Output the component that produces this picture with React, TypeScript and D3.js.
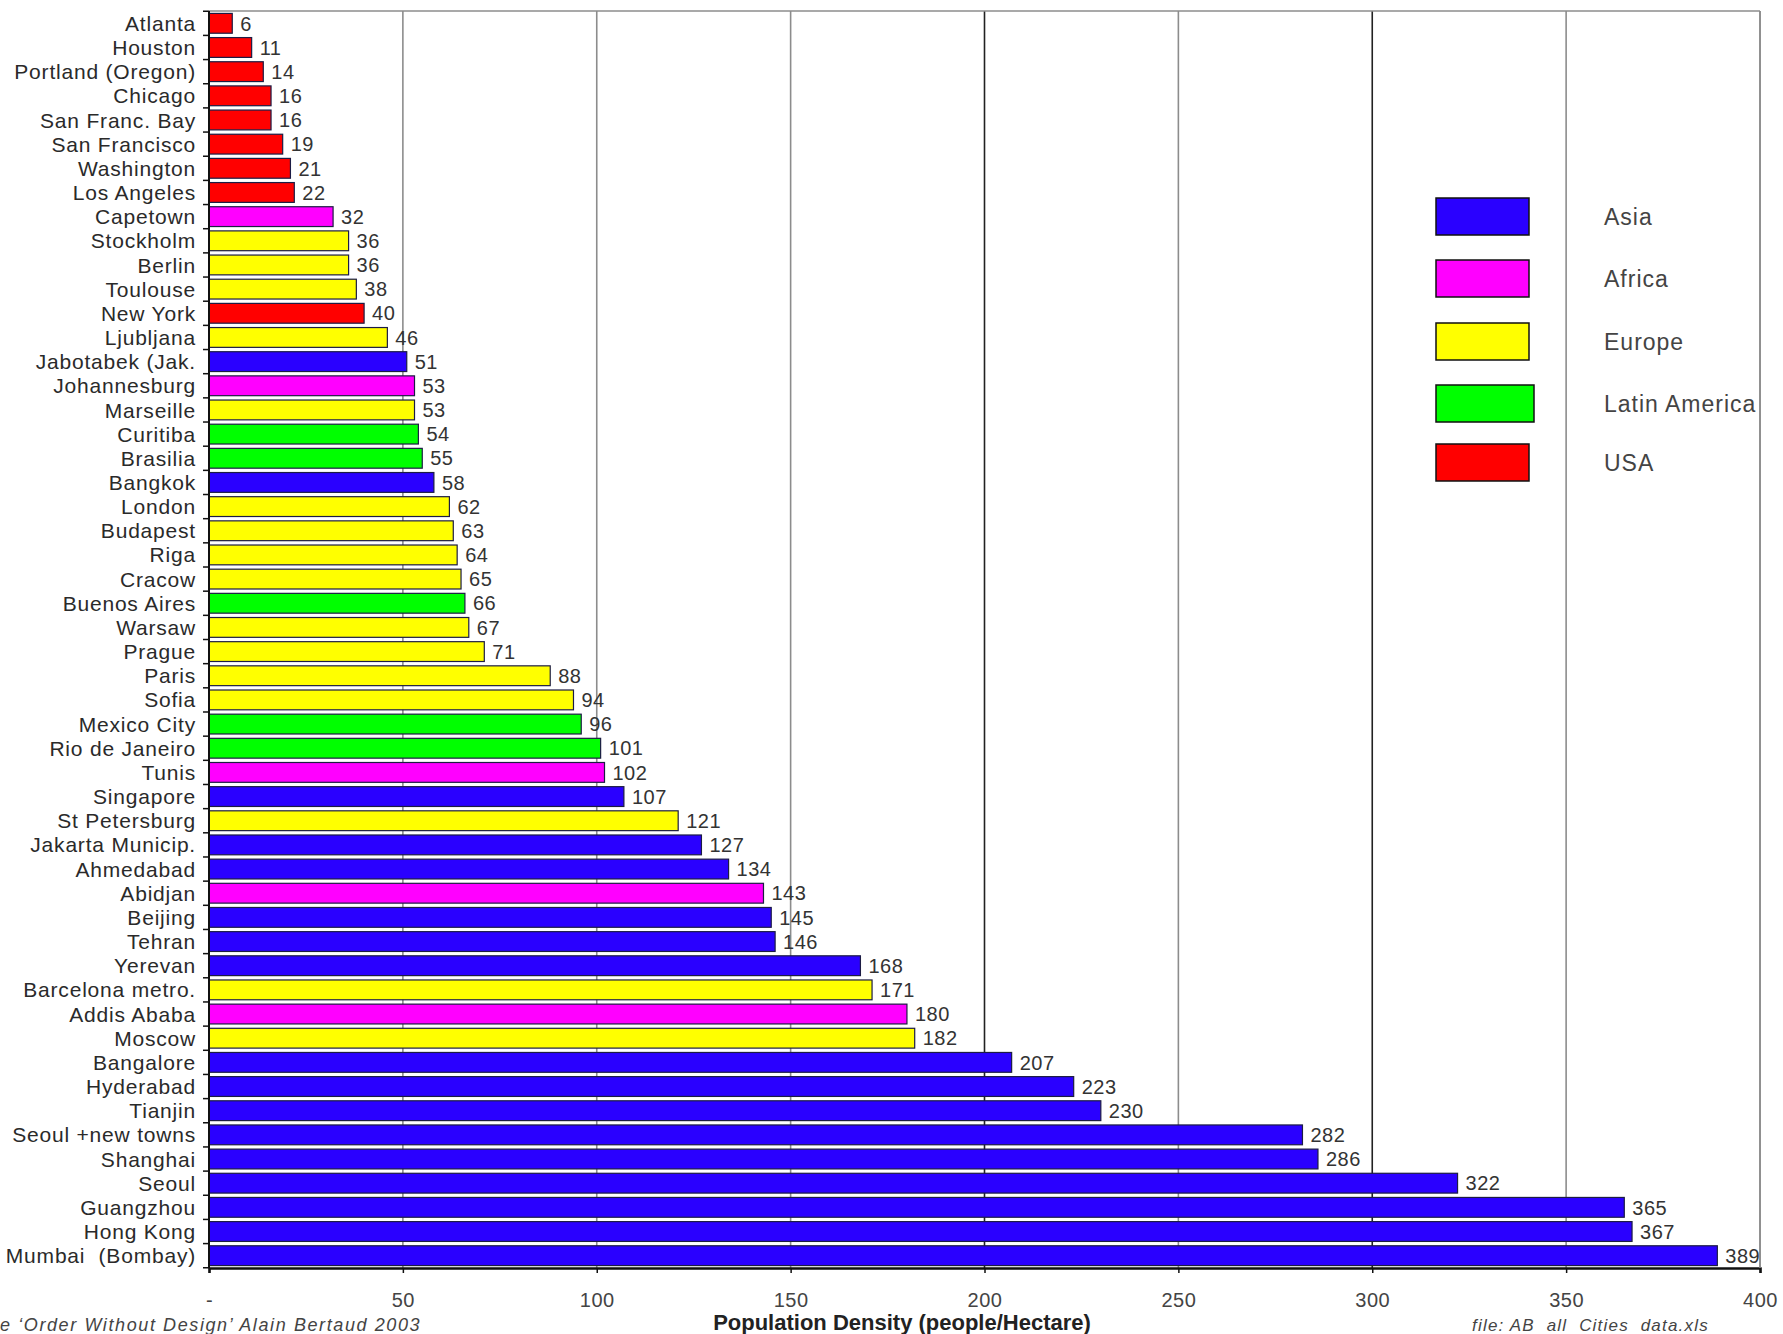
import * as d3 from "d3";
import { useEffect, useRef } from "react";

// cities, top to bottom
const cities = [
  "Atlanta", "Houston", "Portland (Oregon)", "Chicago", "San Franc. Bay",
  "San Francisco", "Washington", "Los Angeles", "Capetown", "Stockholm",
  "Berlin", "Toulouse", "New York", "Ljubljana", "Jabotabek (Jak.",
  "Johannesburg", "Marseille", "Curitiba", "Brasilia", "Bangkok",
  "London", "Budapest", "Riga", "Cracow", "Buenos Aires",
  "Warsaw", "Prague", "Paris", "Sofia", "Mexico City",
  "Rio de Janeiro", "Tunis", "Singapore", "St Petersburg", "Jakarta Municip.",
  "Ahmedabad", "Abidjan", "Beijing", "Tehran", "Yerevan",
  "Barcelona metro.", "Addis Ababa", "Moscow", "Bangalore", "Hyderabad",
  "Tianjin", "Seoul +new towns", "Shanghai", "Seoul", "Guangzhou",
  "Hong Kong", "Mumbai  (Bombay)",
];

const densities = [
  6, 11, 14, 16, 16, 19, 21, 22, 32, 36,
  36, 38, 40, 46, 51, 53, 53, 54, 55, 58,
  62, 63, 64, 65, 66, 67, 71, 88, 94, 96,
  101, 102, 107, 121, 127, 134, 143, 145, 146, 168,
  171, 180, 182, 207, 223, 230, 282, 286, 322, 365,
  367, 389,
];

const regions = [
  "USA", "USA", "USA", "USA", "USA", "USA", "USA", "USA", "Africa", "Europe",
  "Europe", "Europe", "USA", "Europe", "Asia", "Africa", "Europe", "Latin America", "Latin America", "Asia",
  "Europe", "Europe", "Europe", "Europe", "Latin America", "Europe", "Europe", "Europe", "Europe", "Latin America",
  "Latin America", "Africa", "Asia", "Europe", "Asia", "Asia", "Africa", "Asia", "Asia", "Asia",
  "Europe", "Africa", "Europe", "Asia", "Asia", "Asia", "Asia", "Asia", "Asia", "Asia",
  "Asia", "Asia",
];

const legendNames = ["Asia", "Africa", "Europe", "Latin America", "USA"];
const legendColors = ["#2a00ff", "#ff00ff", "#ffff00", "#00ff00", "#ff0000"];

const xTicks = [0, 50, 100, 150, 200, 250, 300, 350, 400];

const W = 1783;
const H = 1334;
const FONT = "'Liberation Sans', Arial, sans-serif";

export default function App() {
  const svgRef = useRef<SVGSVGElement | null>(null);

  useEffect(() => {
    const svg = d3.select(svgRef.current);
    svg.selectAll("*").remove();

    const left = 209;
    const right = 1760;
    const top = 11;
    const bottom = 1268;

    const x = d3.scaleLinear().domain([0, 400]).range([left, right]);
    const y = d3
      .scaleBand<string>()
      .domain(cities)
      .range([top, bottom])
      .paddingInner(0.18)
      .paddingOuter(0.1);
    const color = d3.scaleOrdinal<string, string>().domain(legendNames).range(legendColors);

    // grid lines (200 and 300 come out darker in the original)
    svg
      .append("g")
      .selectAll("line")
      .data(xTicks.filter((t) => t > 0))
      .join("line")
      .attr("x1", (d) => x(d))
      .attr("x2", (d) => x(d))
      .attr("y1", top)
      .attr("y2", bottom)
      .attr("stroke", (d) => (d === 200 || d === 300 ? "#222" : "#8c8c8c"))
      .attr("stroke-width", 1.6);

    // top border
    svg
      .append("line")
      .attr("x1", left)
      .attr("x2", right)
      .attr("y1", top)
      .attr("y2", top)
      .attr("stroke", "#8c8c8c")
      .attr("stroke-width", 1.6);

    // bars
    svg
      .append("g")
      .selectAll("rect")
      .data(cities)
      .join("rect")
      .attr("x", left)
      .attr("y", (d) => y(d)!)
      .attr("width", (d, i) => x(densities[i]) - left)
      .attr("height", y.bandwidth())
      .attr("fill", (d, i) => color(regions[i]))
      .attr("stroke", "#1c1c44")
      .attr("stroke-width", 1.2);

    // value labels
    svg
      .append("g")
      .selectAll("text")
      .data(cities)
      .join("text")
      .attr("x", (d, i) => x(densities[i]) + 8)
      .attr("y", (d) => y(d)! + y.bandwidth() / 2)
      .attr("dy", "0.36em")
      .attr("font-family", FONT)
      .attr("font-size", 20)
      .attr("letter-spacing", 0.5)
      .attr("fill", "#333")
      .text((d, i) => densities[i]);

    // y axis
    const yAxis = svg.append("g");
    yAxis
      .append("line")
      .attr("x1", left)
      .attr("x2", left)
      .attr("y1", top)
      .attr("y2", bottom)
      .attr("stroke", "#111")
      .attr("stroke-width", 2);
    const step = y.step();
    const boundaries = d3.range(cities.length + 1).map((i) => top + step * 0.1 - (step * 0.18) / 2 + i * step);
    yAxis
      .selectAll("line.tick")
      .data(boundaries)
      .join("line")
      .attr("class", "tick")
      .attr("x1", left - 6)
      .attr("x2", left)
      .attr("y1", (d) => d)
      .attr("y2", (d) => d)
      .attr("stroke", "#111")
      .attr("stroke-width", 1.5);
    yAxis
      .selectAll("text")
      .data(cities)
      .join("text")
      .attr("x", left - 13)
      .attr("y", (d) => y(d)! + y.bandwidth() / 2)
      .attr("dy", "0.36em")
      .attr("text-anchor", "end")
      .attr("font-family", FONT)
      .attr("font-size", 21)
      .attr("letter-spacing", 0.8)
      .attr("fill", "#2a2a2a")
      .style("white-space", "pre")
      .text((d) => d);

    // x axis
    const xAxis = d3
      .axisBottom(x)
      .tickValues(xTicks)
      .tickSize(5)
      .tickPadding(20)
      .tickFormat((d) => (d === 0 ? "-" : String(d)));
    const xg = svg.append("g").attr("transform", `translate(0,${bottom})`).call(xAxis);
    xg.select(".domain").attr("stroke", "#111").attr("stroke-width", 2.5);
    xg.selectAll(".tick line").attr("stroke", "#111").attr("stroke-width", 1.5);
    xg.selectAll(".tick text")
      .attr("font-family", FONT)
      .attr("font-size", 20)
      .attr("letter-spacing", 0.5)
      .attr("fill", "#444");

    // right border over the top of everything
    svg
      .append("line")
      .attr("x1", right)
      .attr("x2", right)
      .attr("y1", top)
      .attr("y2", bottom)
      .attr("stroke", "#8c8c8c")
      .attr("stroke-width", 1.6);

    // axis title
    svg
      .append("text")
      .attr("x", 902)
      .attr("y", 1330)
      .attr("text-anchor", "middle")
      .attr("font-family", FONT)
      .attr("font-weight", "bold")
      .attr("font-size", 22)
      .attr("fill", "#222")
      .text("Population Density (people/Hectare)");

    // footnotes
    svg
      .append("text")
      .attr("x", 0)
      .attr("y", 1331)
      .attr("font-family", FONT)
      .attr("font-style", "italic")
      .attr("font-size", 18)
      .attr("letter-spacing", 1.6)
      .attr("fill", "#444")
      .text("e \u2018Order Without Design\u2019 Alain Bertaud 2003");
    svg
      .append("text")
      .attr("x", 1472)
      .attr("y", 1331)
      .attr("font-family", FONT)
      .attr("font-style", "italic")
      .attr("font-size", 17)
      .attr("letter-spacing", 1.2)
      .attr("fill", "#444")
      .style("white-space", "pre")
      .text("file: AB  all  Cities  data.xls");

    // legend
    const legend = svg.append("g");
    const legendY = [217, 279, 342, 404, 463];
    legend
      .selectAll("rect")
      .data(legendNames)
      .join("rect")
      .attr("x", 1436)
      .attr("y", (d, i) => legendY[i] - 19)
      .attr("width", (d) => (d === "Latin America" ? 98 : 93))
      .attr("height", 37)
      .attr("fill", (d) => color(d))
      .attr("stroke", "#111")
      .attr("stroke-width", 1.5);
    legend
      .selectAll("text")
      .data(legendNames)
      .join("text")
      .attr("x", 1604)
      .attr("y", (d, i) => legendY[i])
      .attr("dy", "0.36em")
      .attr("font-family", FONT)
      .attr("font-size", 23)
      .attr("letter-spacing", 1)
      .attr("fill", "#444")
      .text((d) => d);
  }, []);

  return (
    <svg
      ref={svgRef}
      width={W}
      height={H}
      style={{ position: "absolute", left: 0, top: 0, background: "#fff" }}
    ></svg>
  );
}
